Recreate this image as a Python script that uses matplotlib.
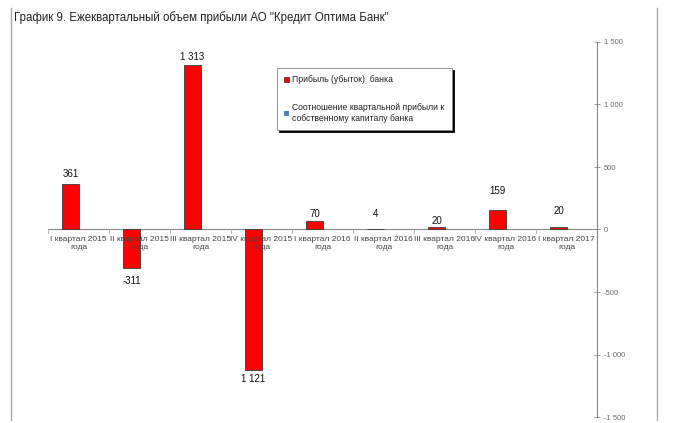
import numpy as np
import matplotlib.pyplot as plt
from matplotlib.patches import Patch
from matplotlib.lines import Line2D

# данные графика
kvartaly = ["I квартал 2015\nгода", "II квартал 2015\nгода", "III квартал 2015\nгода",
            "IV квартал 2015\nгода", "I квартал 2016\nгода", "II квартал 2016\nгода",
            "III квартал 2016\nгода", "IV квартал 2016\nгода", "I квартал 2017\nгода"]
pribyl = [361, -311, 1313, -1121, 70, 4, 20, 159, 20]
# сдвиг подписей от конца столбца, в пикселях (как в исходнике)
sdvig_podpisi = [10, 13, 8, 9, 7, 15, 6, 19, 16]

y_ticks = [-1500, -1000, -500, 0, 500, 1000, 1500]
y_labels = ["-1 500", "-1 000", "-500", "0", "500", "1 000", "1 500"]

plt.rcParams['font.family'] = ['Liberation Sans', 'DejaVu Sans']

fig = plt.figure(figsize=(6.73, 4.23), dpi=100)
ax = fig.add_axes([48/673, 1-417/423, 549/673, 375/423])

x = np.arange(len(pribyl))
bars = ax.bar(x - 0.13, pribyl, width=0.28, color='#ff0000',
              edgecolor='#3a3a3a', linewidth=0.6, zorder=3)

for xi, v, s in zip(x, pribyl, sdvig_podpisi):
    txt = f"{abs(v):,}".replace(",", " ")
    if v < 0:
        txt = "-" + txt if v > -1000 else txt
    off = s*0.72 if v >= 0 else -s*0.72
    ax.annotate(txt, (xi - 0.13, v), xytext=(0, off), textcoords='offset points',
                ha='center', va='center', fontsize=7, color='#111111')

ax.set_xlim(-0.5, len(pribyl) - 0.5)
ax.set_ylim(-1500, 1500)

# правая ось
ax.yaxis.tick_right()
ax.set_yticks(y_ticks)
ax.set_yticklabels(y_labels, fontsize=5.5, color='#6a6a6a')
ax.tick_params(axis='y', direction='inout', length=4, width=0.6, color='#888888', pad=3)

for sp in ['top', 'left', 'bottom']:
    ax.spines[sp].set_visible(False)
ax.spines['right'].set_color('#888888')
ax.spines['right'].set_linewidth(0.8)

# ось X на нуле
ax.axhline(0, color='#888888', linewidth=0.8, zorder=2)
ax.set_xticks([])
for b in np.arange(len(pribyl)) - 0.5:
    ax.plot([b, b], [0, -25], color='#aaaaaa', linewidth=0.6, zorder=2)
for xi, lab in zip(x, kvartaly):
    ax.annotate(lab, (xi, 0), xytext=(0, -5), textcoords='offset points',
                ha='center', va='top', fontsize=6, color='#444444', linespacing=1.15)

# рамка
fig.add_artist(Line2D([11/673, 11/673], [1-8/423, 1-420/423], color='#aaaaaa', linewidth=1))
fig.add_artist(Line2D([657/673, 657/673], [1-8/423, 1-420/423], color='#aaaaaa', linewidth=1))

fig.text(14/673, 1-18/423, 'График 9. Ежеквартальный объем прибыли АО "Кредит Оптима Банк"',
         fontsize=8.3, color='#222222', va='center', ha='left')

handles = [Patch(facecolor='#ff0000', edgecolor='#222222', linewidth=0.5),
           Patch(facecolor='#4f81bd', edgecolor='none')]
labels = ["Прибыль (убыток)  банка",
          "Соотношение квартальной прибыли к\nсобственному капиталу банка"]
leg = fig.legend(handles, labels, loc='upper left', bbox_to_anchor=(277/673, 1-68/423),
                 borderaxespad=0, fontsize=6.2, frameon=True, fancybox=False,
                 shadow={'color': 'black', 'alpha': 1.0, 'ox': 1.5, 'oy': -1.5},
                 handlelength=0.6, handleheight=0.6, handletextpad=0.3,
                 labelspacing=2.2, borderpad=0.85, labelcolor='#222222')
leg.get_frame().set_edgecolor('#888888')
leg.get_frame().set_linewidth(0.6)

fig.savefig('out.png', dpi=100)
